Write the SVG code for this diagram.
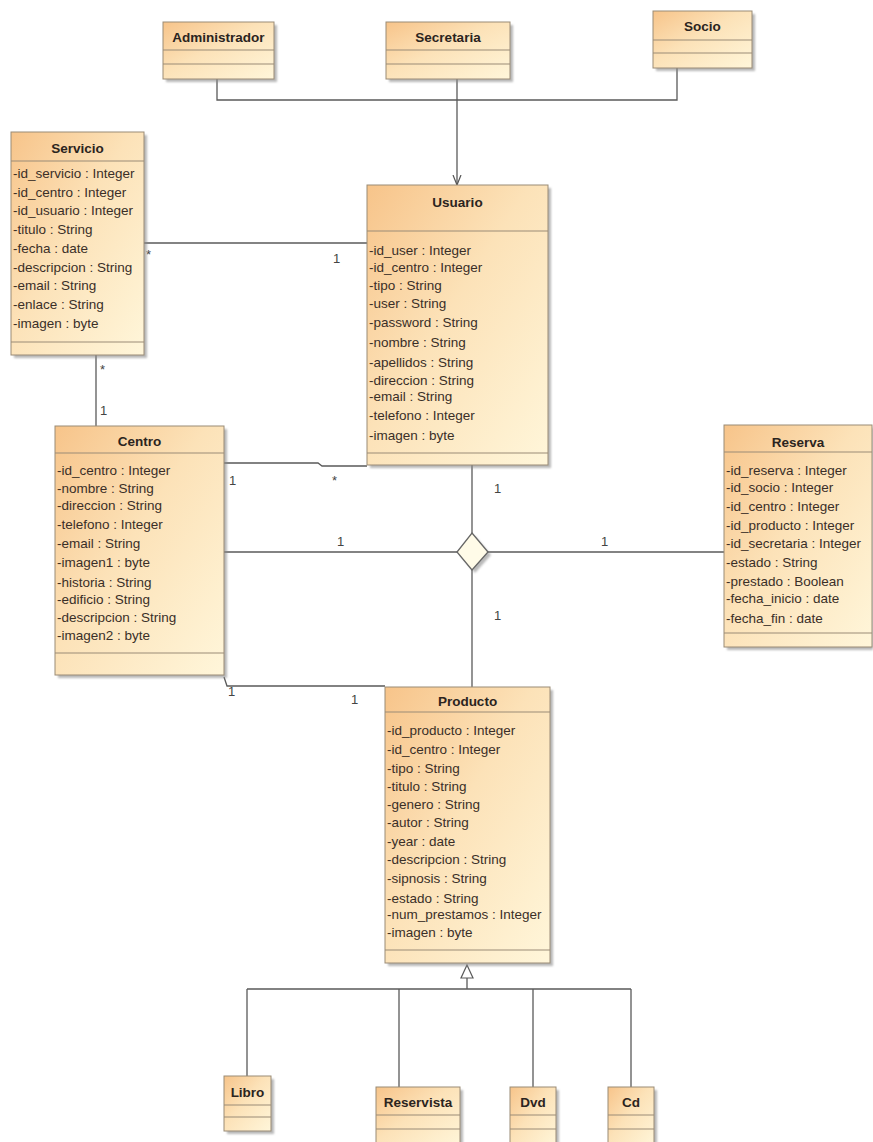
<svg xmlns="http://www.w3.org/2000/svg" width="873" height="1142" viewBox="0 0 873 1142">
<defs>
<linearGradient id="g" x1="0" y1="0" x2="1" y2="1">
<stop offset="0" stop-color="#F7C48A"/>
<stop offset="0.45" stop-color="#FCE2B8"/>
<stop offset="1" stop-color="#FFF6DA"/>
</linearGradient>
<filter id="sh" x="-10%" y="-10%" width="130%" height="130%">
<feGaussianBlur stdDeviation="1.2"/>
</filter>
<marker id="open" viewBox="0 0 10 10" refX="10" refY="5" markerWidth="10" markerHeight="10" orient="auto" markerUnits="userSpaceOnUse">
<path d="M0,1 L10,5 L0,9" fill="none" stroke="#555" stroke-width="1.2"/>
</marker>
</defs>
<style>
.sh{fill:#8a8a8a;opacity:0.6;filter:url(#sh)}
.box{fill:url(#g);stroke:#9a8b76;stroke-width:1}
.sep{stroke:#9a8b76;stroke-width:1}
.nm{font-family:"Liberation Sans",Arial,sans-serif;font-weight:bold;font-size:13.5px;fill:#2b2420;text-anchor:middle}
.at{font-family:"Liberation Sans",Arial,sans-serif;font-size:13.5px;fill:#3a2f28}
.ln{fill:none;stroke:#5a5a5a;stroke-width:1.3}
.lb{font-family:"Liberation Sans",Arial,sans-serif;font-size:13px;fill:#444}
</style>
<rect width="873" height="1142" fill="#fff"/>

<g id="connectors">
<path class="ln" d="M217,79 V100 H677 V68"/>
<path class="ln" d="M457,79 V185" marker-end="url(#open)"/>
<path class="ln" d="M144,243 H367"/>
<path class="ln" d="M96,355 V426"/>
<path class="ln" d="M224,463 H318 L322,466 H367"/>
<path class="ln" d="M224,552 H457"/>
<path class="ln" d="M488,552 H724"/>
<path class="ln" d="M472,465 V533"/>
<path class="ln" d="M472,570 V687"/>
<path class="ln" d="M224,677 L227,686 H385"/>
<path class="ln" d="M467,978 V989 M247,989 H631 M247,989 V1076 M399,989 V1087 M533,989 V1087 M631,989 V1087"/>
<polygon points="467,965 473,978 461,978" fill="#fff" stroke="#5a5a5a" stroke-width="1.2"/>
<polygon points="475,536 491,555 475,573 460,555" class="sh"/>
<polygon points="472,533 488,552 472,570 457,552" fill="#FFFBE8" stroke="#666" stroke-width="1.3"/>
<text class="lb" x="146" y="259">*</text>
<text class="lb" x="333" y="263">1</text>
<text class="lb" x="100" y="374">*</text>
<text class="lb" x="100" y="415">1</text>
<text class="lb" x="229" y="485">1</text>
<text class="lb" x="332" y="485">*</text>
<text class="lb" x="494" y="493">1</text>
<text class="lb" x="337" y="546">1</text>
<text class="lb" x="601" y="546">1</text>
<text class="lb" x="494" y="620">1</text>
<text class="lb" x="228" y="696">1</text>
<text class="lb" x="351" y="704">1</text>
</g>

<g id="Administrador">
<rect class="sh" x="166" y="25" width="111" height="57"/>
<rect class="box" x="163" y="22" width="111" height="57"/>
<line class="sep" x1="163" y1="50" x2="274" y2="50"/><line class="sep" x1="163" y1="64" x2="274" y2="64"/>
<text class="nm" x="218.5" y="42">Administrador</text>
</g>

<g id="Secretaria">
<rect class="sh" x="389" y="25" width="124" height="57"/>
<rect class="box" x="386" y="22" width="124" height="57"/>
<line class="sep" x1="386" y1="50" x2="510" y2="50"/><line class="sep" x1="386" y1="64" x2="510" y2="64"/>
<text class="nm" x="448" y="42">Secretaria</text>
</g>

<g id="Socio">
<rect class="sh" x="656" y="14" width="99" height="57"/>
<rect class="box" x="653" y="11" width="99" height="57"/>
<line class="sep" x1="653" y1="40" x2="752" y2="40"/><line class="sep" x1="653" y1="53" x2="752" y2="53"/>
<text class="nm" x="702.5" y="31">Socio</text>
</g>

<g id="Servicio">
<rect class="sh" x="14" y="135" width="133" height="223"/>
<rect class="box" x="11" y="132" width="133" height="223"/>
<line class="sep" x1="11" y1="161" x2="144" y2="161"/><line class="sep" x1="11" y1="342" x2="144" y2="342"/>
<text class="nm" x="77.5" y="153">Servicio</text>
<text class="at" x="13" y="178">-id_servicio : Integer</text>
<text class="at" x="13" y="197">-id_centro : Integer</text>
<text class="at" x="13" y="215">-id_usuario : Integer</text>
<text class="at" x="13" y="234">-titulo : String</text>
<text class="at" x="13" y="253">-fecha : date</text>
<text class="at" x="13" y="272">-descripcion : String</text>
<text class="at" x="13" y="290">-email : String</text>
<text class="at" x="13" y="309">-enlace : String</text>
<text class="at" x="13" y="328">-imagen : byte</text>
</g>

<g id="Usuario">
<rect class="sh" x="370" y="188" width="181" height="280"/>
<rect class="box" x="367" y="185" width="181" height="280"/>
<line class="sep" x1="367" y1="231" x2="548" y2="231"/><line class="sep" x1="367" y1="453" x2="548" y2="453"/>
<text class="nm" x="457.5" y="207">Usuario</text>
<text class="at" x="369" y="255">-id_user : Integer</text>
<text class="at" x="369" y="272">-id_centro : Integer</text>
<text class="at" x="369" y="290">-tipo : String</text>
<text class="at" x="369" y="308">-user : String</text>
<text class="at" x="369" y="327">-password : String</text>
<text class="at" x="369" y="347">-nombre : String</text>
<text class="at" x="369" y="367">-apellidos : String</text>
<text class="at" x="369" y="385">-direccion : String</text>
<text class="at" x="369" y="401">-email : String</text>
<text class="at" x="369" y="420">-telefono : Integer</text>
<text class="at" x="369" y="440">-imagen : byte</text>
</g>

<g id="Centro">
<rect class="sh" x="58" y="429" width="169" height="249"/>
<rect class="box" x="55" y="426" width="169" height="249"/>
<line class="sep" x1="55" y1="453" x2="224" y2="453"/><line class="sep" x1="55" y1="653" x2="224" y2="653"/>
<text class="nm" x="139.5" y="446">Centro</text>
<text class="at" x="57" y="475">-id_centro : Integer</text>
<text class="at" x="57" y="493">-nombre : String</text>
<text class="at" x="57" y="510">-direccion : String</text>
<text class="at" x="57" y="529">-telefono : Integer</text>
<text class="at" x="57" y="548">-email : String</text>
<text class="at" x="57" y="567">-imagen1 : byte</text>
<text class="at" x="57" y="587">-historia : String</text>
<text class="at" x="57" y="604">-edificio : String</text>
<text class="at" x="57" y="622">-descripcion : String</text>
<text class="at" x="57" y="640">-imagen2 : byte</text>
</g>

<g id="Reserva">
<rect class="sh" x="727" y="428" width="146" height="222"/>
<rect class="box" x="724" y="425" width="148" height="222"/>
<line class="sep" x1="724" y1="452" x2="872" y2="452"/><line class="sep" x1="724" y1="633" x2="872" y2="633"/>
<text class="nm" x="798" y="447">Reserva</text>
<text class="at" x="726" y="475">-id_reserva : Integer</text>
<text class="at" x="726" y="492">-id_socio : Integer</text>
<text class="at" x="726" y="511">-id_centro : Integer</text>
<text class="at" x="726" y="530">-id_producto : Integer</text>
<text class="at" x="726" y="548">-id_secretaria : Integer</text>
<text class="at" x="726" y="567">-estado : String</text>
<text class="at" x="726" y="586">-prestado : Boolean</text>
<text class="at" x="726" y="603">-fecha_inicio : date</text>
<text class="at" x="726" y="623">-fecha_fin : date</text>
</g>

<g id="Producto">
<rect class="sh" x="388" y="690" width="165" height="276"/>
<rect class="box" x="385" y="687" width="165" height="276"/>
<line class="sep" x1="385" y1="712" x2="550" y2="712"/><line class="sep" x1="385" y1="950" x2="550" y2="950"/>
<text class="nm" x="467.5" y="706">Producto</text>
<text class="at" x="387" y="735">-id_producto : Integer</text>
<text class="at" x="387" y="754">-id_centro : Integer</text>
<text class="at" x="387" y="773">-tipo : String</text>
<text class="at" x="387" y="791">-titulo : String</text>
<text class="at" x="387" y="809">-genero : String</text>
<text class="at" x="387" y="827">-autor : String</text>
<text class="at" x="387" y="846">-year : date</text>
<text class="at" x="387" y="864">-descripcion : String</text>
<text class="at" x="387" y="883">-sipnosis : String</text>
<text class="at" x="387" y="903">-estado : String</text>
<text class="at" x="387" y="919">-num_prestamos : Integer</text>
<text class="at" x="387" y="937">-imagen : byte</text>
</g>

<g id="Libro">
<rect class="sh" x="227" y="1079" width="47" height="55"/>
<rect class="box" x="224" y="1076" width="47" height="55"/>
<line class="sep" x1="224" y1="1105" x2="271" y2="1105"/><line class="sep" x1="224" y1="1117" x2="271" y2="1117"/>
<text class="nm" x="247.5" y="1097">Libro</text>
</g>

<g id="Reservista">
<rect class="sh" x="379" y="1090" width="84" height="60"/>
<rect class="box" x="376" y="1087" width="84" height="60"/>
<line class="sep" x1="376" y1="1115" x2="460" y2="1115"/><line class="sep" x1="376" y1="1129" x2="460" y2="1129"/>
<text class="nm" x="418" y="1107">Reservista</text>
</g>

<g id="Dvd">
<rect class="sh" x="513" y="1090" width="46" height="60"/>
<rect class="box" x="510" y="1087" width="46" height="60"/>
<line class="sep" x1="510" y1="1115" x2="556" y2="1115"/><line class="sep" x1="510" y1="1129" x2="556" y2="1129"/>
<text class="nm" x="533" y="1107">Dvd</text>
</g>

<g id="Cd">
<rect class="sh" x="611" y="1090" width="46" height="60"/>
<rect class="box" x="608" y="1087" width="46" height="60"/>
<line class="sep" x1="608" y1="1115" x2="654" y2="1115"/><line class="sep" x1="608" y1="1129" x2="654" y2="1129"/>
<text class="nm" x="631" y="1107">Cd</text>
</g>
</svg>
